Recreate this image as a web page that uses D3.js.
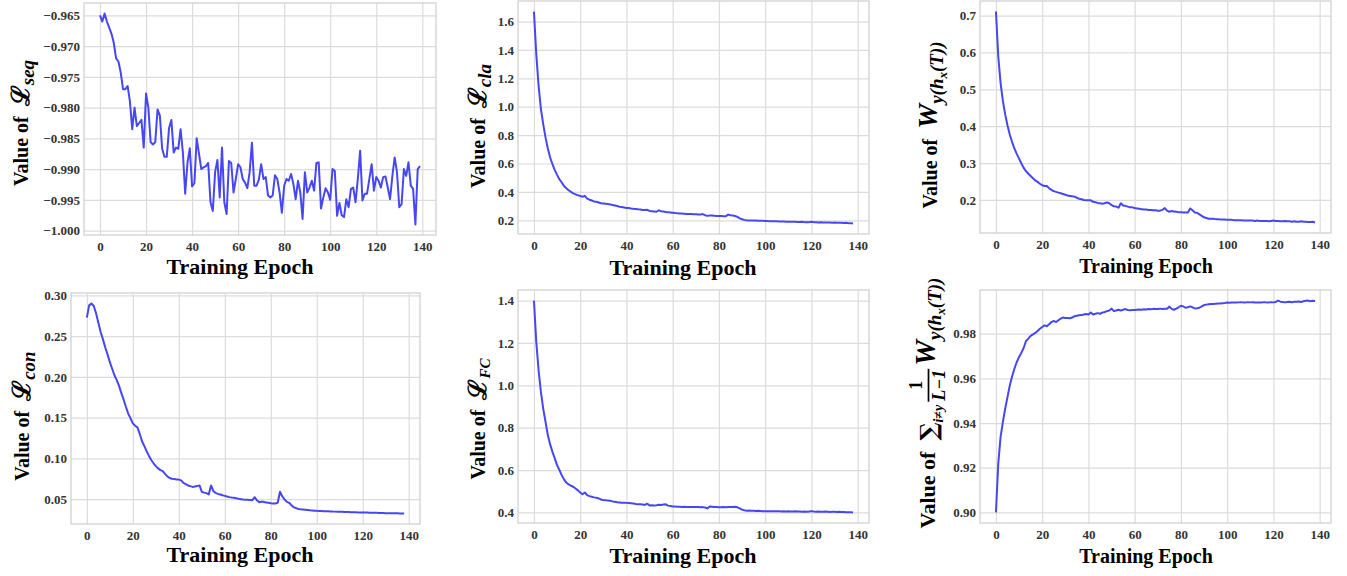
<!DOCTYPE html>
<html>
<head>
<meta charset="utf-8">
<script src="https://cdn.jsdelivr.net/npm/d3@7"></script>
<style>
  body { margin: 0; background: #fff; }
  svg text { font-family: "Liberation Serif", "Times New Roman", serif; font-weight: bold; }
  .tick line { stroke: #dcdcdc; stroke-width: 1.2; }
</style>
</head>
<body>
<svg id="chart" width="1347" height="576"></svg>
<script>
// values per training epoch
const lossSeq = [
  -0.9650,-0.9660,-0.9647,-0.9660,-0.9670,-0.9680,-0.9695,-0.9720,-0.9725,-0.9743,
  -0.9770,-0.9770,-0.9765,-0.9790,-0.9835,-0.9800,-0.9830,-0.9825,-0.9820,-0.9865,
  -0.9777,-0.9800,-0.9856,-0.9860,-0.9856,-0.9803,-0.9813,-0.9867,-0.9880,-0.9880,
  -0.9833,-0.9820,-0.9873,-0.9865,-0.9867,-0.9835,-0.9873,-0.9940,-0.9890,-0.9866,
  -0.9928,-0.9923,-0.9850,-0.9875,-0.9900,-0.9897,-0.9895,-0.9890,-0.9954,-0.9968,
  -0.9905,-0.9885,-0.9946,-0.9865,-0.9954,-0.9973,-0.9887,-0.9890,-0.9938,-0.9916,
  -0.9892,-0.9897,-0.9916,-0.9922,-0.9931,-0.9905,-0.9857,-0.9927,-0.9927,-0.9917,
  -0.9892,-0.9916,-0.9913,-0.9943,-0.9946,-0.9943,-0.9910,-0.9916,-0.9938,-0.9971,
  -0.9927,-0.9916,-0.9919,-0.9908,-0.9924,-0.9949,-0.9919,-0.9938,-0.9981,-0.9905,
  -0.9938,-0.9930,-0.9919,-0.9935,-0.9890,-0.9889,-0.9964,-0.9946,-0.9931,-0.9938,
  -0.9950,-0.9900,-0.9903,-0.9976,-0.9955,-0.9975,-0.9978,-0.9949,-0.9962,-0.9932,
  -0.9930,-0.9954,-0.9916,-0.9870,-0.9951,-0.9940,-0.9940,-0.9916,-0.9892,-0.9935,
  -0.9913,-0.9919,-0.9930,-0.9913,-0.9912,-0.9930,-0.9949,-0.9911,-0.9881,-0.9905,
  -0.9962,-0.9957,-0.9900,-0.9911,-0.9889,-0.9927,-0.9932,-0.9990,-0.9900,-0.9895
];

const lossCla = [
  1.670,1.372,1.148,0.984,0.878,0.784,0.706,0.642,0.595,0.553,
  0.520,0.489,0.466,0.442,0.426,0.412,0.400,0.390,0.383,0.376,
  0.372,0.366,0.372,0.353,0.345,0.339,0.333,0.330,0.325,0.320,
  0.318,0.316,0.314,0.312,0.308,0.304,0.300,0.296,0.293,0.290,
  0.287,0.286,0.283,0.281,0.280,0.277,0.276,0.273,0.272,0.274,
  0.266,0.264,0.262,0.260,0.270,0.264,0.262,0.259,0.257,0.255,
  0.253,0.251,0.250,0.248,0.247,0.246,0.245,0.245,0.244,0.243,
  0.242,0.241,0.240,0.244,0.236,0.231,0.234,0.233,0.232,0.231,
  0.231,0.230,0.229,0.228,0.240,0.236,0.233,0.230,0.224,0.214,
  0.207,0.203,0.200,0.199,0.199,0.199,0.198,0.197,0.196,0.196,
  0.195,0.195,0.194,0.194,0.193,0.193,0.192,0.191,0.192,0.190,
  0.190,0.189,0.190,0.189,0.188,0.188,0.189,0.187,0.186,0.187,
  0.189,0.187,0.186,0.185,0.186,0.185,0.184,0.185,0.184,0.183,
  0.184,0.182,0.183,0.182,0.181,0.182,0.180,0.180,0.178
];

const weightTrue = [
  0.711,0.589,0.517,0.468,0.432,0.402,0.377,0.357,0.339,0.325,
  0.312,0.299,0.287,0.278,0.271,0.265,0.259,0.253,0.249,0.244,
  0.240,0.238,0.238,0.232,0.227,0.224,0.222,0.220,0.218,0.216,
  0.214,0.212,0.211,0.210,0.209,0.206,0.203,0.202,0.200,0.199,
  0.199,0.199,0.195,0.194,0.192,0.191,0.190,0.191,0.193,0.191,
  0.186,0.183,0.182,0.179,0.191,0.185,0.184,0.182,0.180,0.180,
  0.178,0.177,0.176,0.175,0.174,0.174,0.173,0.173,0.172,0.172,
  0.171,0.171,0.173,0.178,0.171,0.168,0.170,0.169,0.168,0.167,
  0.167,0.166,0.166,0.166,0.177,0.172,0.166,0.165,0.161,0.157,
  0.153,0.151,0.149,0.149,0.149,0.148,0.148,0.147,0.147,0.147,
  0.146,0.146,0.146,0.145,0.145,0.145,0.145,0.144,0.144,0.144,
  0.144,0.144,0.143,0.144,0.143,0.143,0.143,0.143,0.142,0.143,
  0.144,0.143,0.143,0.142,0.142,0.143,0.142,0.142,0.141,0.142,
  0.141,0.141,0.142,0.141,0.141,0.140,0.140,0.141,0.139
];

const lossCon = [
  0.2726,0.2877,0.2900,0.2870,0.2780,0.2665,0.2550,0.2460,0.2360,0.2276,
  0.2180,0.2100,0.2020,0.1960,0.1890,0.1800,0.1720,0.1630,0.1550,0.1490,
  0.1430,0.1400,0.1380,0.1300,0.1210,0.1150,0.1090,0.1030,0.0980,0.0940,
  0.0905,0.0877,0.0856,0.0844,0.0810,0.0780,0.0760,0.0750,0.0746,0.0742,
  0.0740,0.0730,0.0700,0.0685,0.0668,0.0660,0.0650,0.0655,0.0660,0.0668,
  0.0590,0.0580,0.0574,0.0557,0.0668,0.0600,0.0577,0.0565,0.0557,0.0548,
  0.0540,0.0532,0.0525,0.0520,0.0516,0.0510,0.0504,0.0500,0.0496,0.0494,
  0.0492,0.0490,0.0488,0.0524,0.0484,0.0463,0.0470,0.0465,0.0460,0.0455,
  0.0450,0.0448,0.0447,0.0455,0.0590,0.0533,0.0496,0.0467,0.0455,0.0426,
  0.0400,0.0390,0.0380,0.0375,0.0372,0.0369,0.0366,0.0363,0.0361,0.0359,
  0.0357,0.0356,0.0355,0.0353,0.0352,0.0351,0.0350,0.0348,0.0347,0.0345,
  0.0344,0.0344,0.0343,0.0342,0.0341,0.0340,0.0339,0.0338,0.0337,0.0337,
  0.0336,0.0336,0.0335,0.0334,0.0333,0.0333,0.0332,0.0331,0.0330,0.0329,
  0.0328,0.0328,0.0327,0.0327,0.0326,0.0326,0.0325,0.0325,0.0324
];

const lossFC = [
  1.400,1.205,1.071,0.969,0.890,0.828,0.765,0.721,0.686,0.655,
  0.623,0.600,0.576,0.556,0.541,0.532,0.526,0.521,0.513,0.504,
  0.494,0.486,0.494,0.482,0.477,0.474,0.471,0.469,0.466,0.461,
  0.458,0.457,0.456,0.455,0.452,0.450,0.448,0.447,0.446,0.446,
  0.445,0.444,0.443,0.442,0.440,0.439,0.438,0.437,0.435,0.441,
  0.433,0.434,0.433,0.434,0.436,0.435,0.437,0.438,0.432,0.430,
  0.428,0.428,0.427,0.427,0.426,0.427,0.426,0.426,0.425,0.426,
  0.425,0.425,0.424,0.425,0.423,0.419,0.428,0.427,0.426,0.425,
  0.424,0.424,0.425,0.424,0.425,0.425,0.426,0.427,0.424,0.419,
  0.413,0.410,0.408,0.409,0.408,0.408,0.407,0.408,0.407,0.406,
  0.406,0.406,0.405,0.406,0.405,0.405,0.406,0.404,0.405,0.404,
  0.405,0.404,0.404,0.405,0.404,0.404,0.403,0.404,0.403,0.404,
  0.406,0.404,0.403,0.404,0.403,0.403,0.404,0.403,0.402,0.403,
  0.403,0.402,0.403,0.402,0.402,0.401,0.401,0.401,0.400
];

const weightOther = [
  0.9000,0.9219,0.9338,0.9405,0.9465,0.9517,0.9569,0.9609,0.9644,0.9673,
  0.9696,0.9714,0.9737,0.9767,0.9778,0.9790,0.9797,0.9803,0.9812,0.9822,
  0.9830,0.9837,0.9833,0.9842,0.9852,0.9857,0.9852,0.9860,0.9867,0.9872,
  0.9870,0.9870,0.9869,0.9872,0.9878,0.9880,0.9882,0.9883,0.9886,0.9888,
  0.9886,0.9895,0.9886,0.9889,0.9892,0.9889,0.9894,0.9897,0.9901,0.9904,
  0.9912,0.9901,0.9904,0.9907,0.9904,0.9907,0.9910,0.9906,0.9905,0.9906,
  0.9906,0.9907,0.9908,0.9907,0.9909,0.9908,0.9910,0.9909,0.9911,0.9910,
  0.9910,0.9912,0.9910,0.9911,0.9912,0.9921,0.9911,0.9907,0.9912,0.9918,
  0.9925,0.9922,0.9916,0.9918,0.9922,0.9918,0.9913,0.9914,0.9916,0.9922,
  0.9928,0.9930,0.9932,0.9933,0.9933,0.9934,0.9935,0.9935,0.9936,0.9937,
  0.9939,0.9938,0.9939,0.9940,0.9939,0.9940,0.9941,0.9940,0.9940,0.9941,
  0.9940,0.9941,0.9939,0.9940,0.9940,0.9940,0.9941,0.9940,0.9940,0.9941,
  0.9940,0.9942,0.9948,0.9943,0.9942,0.9940,0.9942,0.9943,0.9941,0.9943,
  0.9943,0.9944,0.9942,0.9945,0.9947,0.9948,0.9945,0.9947,0.9946
];

// tick labels
const xTicks = [0, 20, 40, 60, 80, 100, 120, 140];
const ticksSeq = [-1.000, -0.995, -0.990, -0.985, -0.980, -0.975, -0.970, -0.965];
const ticksCla = [0.2, 0.4, 0.6, 0.8, 1.0, 1.2, 1.4, 1.6];
const ticksWTrue = [0.2, 0.3, 0.4, 0.5, 0.6, 0.7];
const ticksCon = [0.05, 0.10, 0.15, 0.20, 0.25, 0.30];
const ticksFC = [0.4, 0.6, 0.8, 1.0, 1.2, 1.4];
const ticksWOther = [0.90, 0.92, 0.94, 0.96, 0.98];

const xLabel = "Training Epoch";

const svg = d3.select("#chart");
const lineColor = "#4747f2";
const serif = "'Liberation Serif', 'Times New Roman', serif";

const scriptL = "\u2112";
const panels = [
  {values: lossSeq, ticks: ticksSeq, fmt: ".3f", box: [84, 3, 436, 235],
   xt: {cx: 240, y: 274, size: 22},
   yt: {x: 28, cy: 123, parts: [
     {t: "Value of\u00a0\u00a0", size: 20},
     {t: scriptL, size: 25, fam: "DejaVu Serif", dy: 1},
     {t: "seq", size: 19, it: true, dy: 6}]}},
  {values: lossCla, ticks: ticksCla, fmt: ".1f", box: [518, 1, 869, 234],
   xt: {cx: 683, y: 275, size: 22},
   yt: {x: 485, cy: 126, parts: [
     {t: "Value of\u00a0\u00a0", size: 20},
     {t: scriptL, size: 25, fam: "DejaVu Serif", dy: 1},
     {t: "cla", size: 19, it: true, dy: 6}]}},
  {values: weightTrue, ticks: ticksWTrue, fmt: ".1f", box: [980, 1, 1331, 233],
   xt: {cx: 1146, y: 273, size: 20},
   yt: {x: 937, cy: 125, parts: [
     {t: "Value of\u00a0\u00a0", size: 20},
     {t: "W", size: 28, it: true},
     {t: "y(h", size: 19, it: true, dy: 6},
     {t: "x", size: 13, it: true, dy: 10},
     {t: "(T))", size: 19, it: true, dy: 6}]}},
  {values: lossCon, ticks: ticksCon, fmt: ".2f", box: [71, 293, 420, 524],
   xt: {cx: 240, y: 562, size: 22},
   yt: {x: 29, cy: 416, parts: [
     {t: "Value of\u00a0\u00a0", size: 20},
     {t: scriptL, size: 25, fam: "DejaVu Serif", dy: 1},
     {t: "con", size: 19, it: true, dy: 6}]}},
  {values: lossFC, ticks: ticksFC, fmt: ".1f", box: [518, 290, 869, 523],
   xt: {cx: 683, y: 563, size: 22},
   yt: {x: 485, cy: 419, parts: [
     {t: "Value of\u00a0\u00a0", size: 20},
     {t: scriptL, size: 25, fam: "DejaVu Serif", dy: 1},
     {t: "FC", size: 15, it: true, dy: 5}]}},
  {values: weightOther, ticks: ticksWOther, fmt: ".2f", box: [980, 290, 1331, 523],
   xt: {cx: 1146, y: 563, size: 20},
   yt: {x: 935, cy: 403, parts: [
     {t: "Value of\u00a0\u00a0", size: 22},
     {t: "\u2211", size: 24, fam: "DejaVu Serif", dy: 2},
     {t: "i\u2260y", size: 14, it: true, dy: 8},
     {frac: ["1", "L\u22121"], size: 18},
     {t: "W", size: 29, it: true},
     {t: "y(h", size: 19, it: true, dy: 6},
     {t: "x", size: 13, it: true, dy: 10},
     {t: "(T))", size: 19, it: true, dy: 6}]}}
];

function drawYTitle(yt) {
  let g = svg.append("g")
    .attr("transform", "translate(" + yt.x + "," + yt.cy + ") rotate(-90)");
  let inner = g.append("g");
  let cursor = 0;
  yt.parts.forEach(p => {
    if (p.frac) {
      cursor += 3;
      let num = inner.append("text")
        .attr("y", -13)
        .attr("text-anchor", "middle")
        .style("font-size", p.size + "px")
        .text(p.frac[0]);
      let den = inner.append("text")
        .attr("y", 10)
        .attr("text-anchor", "middle")
        .style("font-size", p.size + "px")
        .style("font-style", "italic")
        .text(p.frac[1]);
      let w = Math.max(num.node().getComputedTextLength(), den.node().getComputedTextLength()) + 2;
      num.attr("x", cursor + w / 2);
      den.attr("x", cursor + w / 2);
      inner.append("line")
        .attr("x1", cursor).attr("x2", cursor + w)
        .attr("y1", -6.5).attr("y2", -6.5)
        .attr("stroke", "#000").attr("stroke-width", 1.7);
      cursor += w + 3;
    } else {
      let el = inner.append("text")
        .attr("x", cursor)
        .attr("y", p.dy || 0)
        .style("font-size", p.size + "px")
        .style("font-style", p.it ? "italic" : "normal")
        .text(p.t);
      if (p.fam) el.style("font-family", p.fam);
      cursor += el.node().getComputedTextLength();
    }
  });
  inner.attr("transform", "translate(" + (-cursor / 2) + ",0)");
}

panels.forEach(p => {
  let [left, top, right, bottom] = p.box;
  let w = right - left, h = bottom - top;
  let n = p.values.length;

  let x = d3.scaleLinear()
    .domain([-(n - 1) * 0.05, (n - 1) * 1.05])
    .range([0, w]);
  let ext = d3.extent(p.values);
  let pad = (ext[1] - ext[0]) * 0.05;
  let y = d3.scaleLinear()
    .domain([ext[0] - pad, ext[1] + pad])
    .range([h, 0]);

  let g = svg.append("g").attr("transform", "translate(" + left + "," + top + ")");

  g.append("g")
    .attr("transform", "translate(0," + h + ")")
    .call(d3.axisBottom(x).tickValues(xTicks).tickSize(-h).tickPadding(7).tickFormat(d3.format("d")))
    .call(a => a.select(".domain").remove());

  g.append("g")
    .call(d3.axisLeft(y).tickValues(p.ticks).tickSize(-w).tickPadding(4).tickFormat(d3.format(p.fmt)))
    .call(a => a.select(".domain").remove());

  g.selectAll(".tick text")
    .style("font-family", serif)
    .style("font-weight", "bold")
    .style("font-size", "13px")
    .style("fill", "#333");

  g.append("rect")
    .attr("width", w).attr("height", h)
    .attr("fill", "none")
    .attr("stroke", "#d2d2d2")
    .attr("stroke-width", 1.3);

  let line = d3.line()
    .x((d, i) => x(i))
    .y(d => y(d));

  g.append("path")
    .datum(p.values)
    .attr("d", line)
    .attr("fill", "none")
    .attr("stroke", lineColor)
    .attr("stroke-width", 2)
    .attr("stroke-linejoin", "round");

  svg.append("text")
    .attr("x", p.xt.cx)
    .attr("y", p.xt.y)
    .attr("text-anchor", "middle")
    .style("font-size", p.xt.size + "px")
    .text(xLabel);

  drawYTitle(p.yt);
});
</script>
</body>
</html>
